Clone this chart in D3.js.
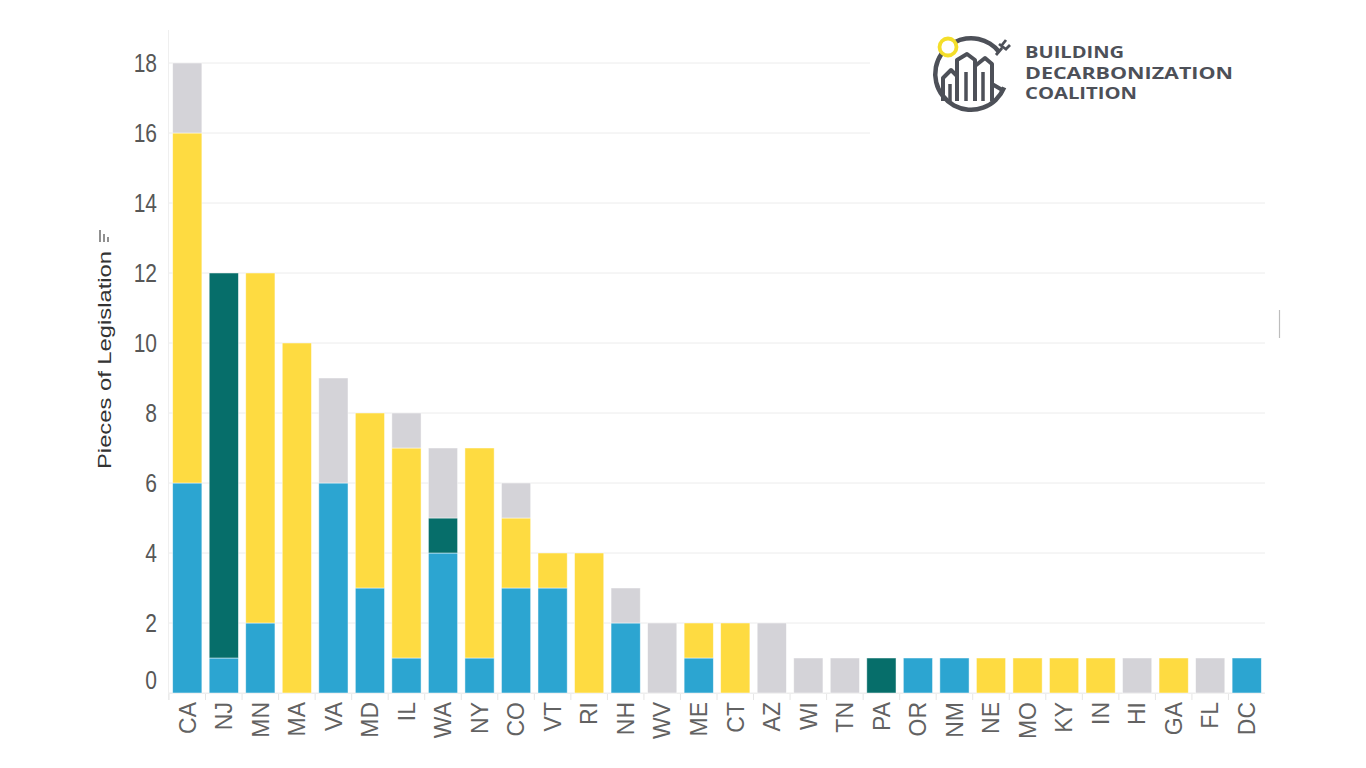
<!DOCTYPE html>
<html><head><meta charset="utf-8">
<script src="https://cdn.jsdelivr.net/npm/d3@7"></script>
<style>body{margin:0;background:#fff;}svg{display:block;font-family:"Liberation Sans",Arial,sans-serif;}</style>
</head><body>
<svg id="c" width="1366" height="768"></svg>
<script>
const states = ["CA","NJ","MN","MA","VA","MD","IL","WA","NY","CO","VT","RI","NH","WV","ME","CT","AZ","WI","TN","PA","OR","NM","NE","MO","KY","IN","HI","GA","FL","DC"];
const blue   = [6,1,2,0,6,3,1,4,1,3,3,0,2,0,1,0,0,0,0,0,1,1,0,0,0,0,0,0,0,1];
const teal   = [0,11,0,0,0,0,0,1,0,0,0,0,0,0,0,0,0,0,0,1,0,0,0,0,0,0,0,0,0,0];
const yellow = [10,0,10,10,0,5,6,0,6,2,1,4,0,0,1,2,0,0,0,0,0,0,1,1,1,1,0,1,0,0];
const gray   = [2,0,0,0,3,0,1,2,0,1,0,0,1,2,0,0,2,1,1,0,0,0,0,0,0,0,1,0,1,0];
const yTicks = [0,2,4,6,8,10,12,14,16,18];
const seriesKeys = ["blue","teal","yellow","gray"];
const colors = {blue:"#2ca5d1", teal:"#066e6a", yellow:"#fedb41", gray:"#d4d3d8"};

const table = states.map((s,i)=>({state:s, blue:blue[i], teal:teal[i], yellow:yellow[i], gray:gray[i]}));
const svg = d3.select("#c");
const x = d3.scaleBand().domain(states).range([169,1265]).paddingInner(0.2).paddingOuter(0.1);
const y = d3.scaleLinear().domain([0,18]).range([693,63]);

// gridlines
const grid = svg.append("g");
yTicks.forEach(t=>{
  grid.append("line").attr("x1",169).attr("x2", t>=16 ? 870 : 1265)
    .attr("y1",y(t)).attr("y2",y(t)).attr("stroke","#ececec").attr("stroke-width",1);
});
svg.append("line").attr("x1",168.5).attr("x2",168.5).attr("y1",30).attr("y2",700).attr("stroke","#efefef");

// y tick labels
yTicks.forEach(t=>{
  svg.append("text").attr("transform",`translate(157,${t===0 ? 680 : y(t)}) scale(1,1.25)`).attr("dy","0.36em")
    .attr("text-anchor","end").attr("font-size",21).attr("fill","#575757").text(t);
});

// x tick marks between bands
const step = x.step();
states.forEach(s=>{
  const xx = x(s) - step*x.paddingInner()/2;
  svg.append("line").attr("x1",xx).attr("x2",xx).attr("y1",694).attr("y2",700).attr("stroke","#e6e6e6");
});
svg.append("line").attr("x1",169).attr("x2",1265).attr("y1",693.5).attr("y2",693.5).attr("stroke","#eeeeee");

// stacked bars
const stack = d3.stack().keys(seriesKeys)(table);
svg.append("g").selectAll("g").data(stack).join("g").attr("fill",d=>colors[d.key])
  .selectAll("rect").data(d=>d.filter(p=>p[1]-p[0]>0)).join("rect")
  .attr("x",d=>x(d.data.state)).attr("width",x.bandwidth())
  .attr("y",d=>y(d[1])).attr("height",d=>y(d[0])-y(d[1]))
  .attr("stroke","#ffffff").attr("stroke-opacity",0.6).attr("stroke-width",0.8);

// x labels
states.forEach(s=>{
  svg.append("text").attr("transform",`translate(${x(s)+x.bandwidth()/2},702) rotate(-90)`)
    .attr("dy","0.36em").attr("text-anchor","end").attr("font-size",23).attr("fill","#626262").text(s);
});

// y axis title
svg.append("text").attr("transform","translate(105,360) rotate(-90)").attr("dy","0.35em")
  .attr("text-anchor","middle").attr("font-size",18).attr("fill","#333")
  .attr("textLength",218).attr("lengthAdjust","spacingAndGlyphs").text("Pieces of Legislation");
// sort icon
const ic = svg.append("g").attr("stroke","#555").attr("stroke-width",1.3);
[[0,12],[4,8],[8,5]].forEach(([dx,len])=>{
  ic.append("line").attr("x1",100+dx).attr("x2",100+dx).attr("y1",242).attr("y2",242-len);
});

// small marker at right
svg.append("line").attr("x1",1279.5).attr("x2",1279.5).attr("y1",310).attr("y2",338).attr("stroke","#bdbdbd").attr("stroke-width",1.2);

// logo
const lg = svg.append("g");
const dark = "#4d5058";
const arc = d3.arc().innerRadius(33.5).outerRadius(38);
const deg = Math.PI/180;
lg.append("path").attr("d", arc({startAngle:-28*deg,endAngle:52*deg})).attr("transform","translate(971,74)").attr("fill",dark);
lg.append("path").attr("d", arc({startAngle:112*deg,endAngle:305*deg})).attr("transform","translate(971,74)").attr("fill",dark);
lg.append("circle").attr("cx",948).attr("cy",47).attr("r",8.5).attr("fill","none").attr("stroke","#f4de2a").attr("stroke-width",3.8);
lg.append("path").attr("d","M943,101 L943,78 L951,70 L957,76 L957,101 M957,101 L957,60 L967,54 L975,60 L975,101 M975,101 L975,66 L985,58 L992,64 L992,101 M992,101 L992,84 L1004,91")
  .attr("fill","none").attr("stroke",dark).attr("stroke-width",4).attr("stroke-linejoin","round");
lg.append("path").attr("d","M950,101 L950,84 M966,101 L966,72 M983,101 L983,72")
  .attr("fill","none").attr("stroke",dark).attr("stroke-width",3.5);
lg.append("path").attr("d","M996,55 L1002,48 M999,44 L1007,50 M1002,45 L1006,40 M1006,49 L1010,45").attr("stroke",dark).attr("stroke-width",2.8).attr("fill","none");
[["BUILDING",58,99],["DECARBONIZATION",79,208],["COALITION",99,112]].forEach(([t,yy,w])=>{
  lg.append("text").attr("x",1025).attr("y",yy).attr("font-size",16).attr("font-weight",700)
    .attr("font-family","'Open Sans', sans-serif").attr("fill",dark)
    .attr("textLength",w).attr("lengthAdjust","spacingAndGlyphs").text(t);
});
</script>
</body></html>
